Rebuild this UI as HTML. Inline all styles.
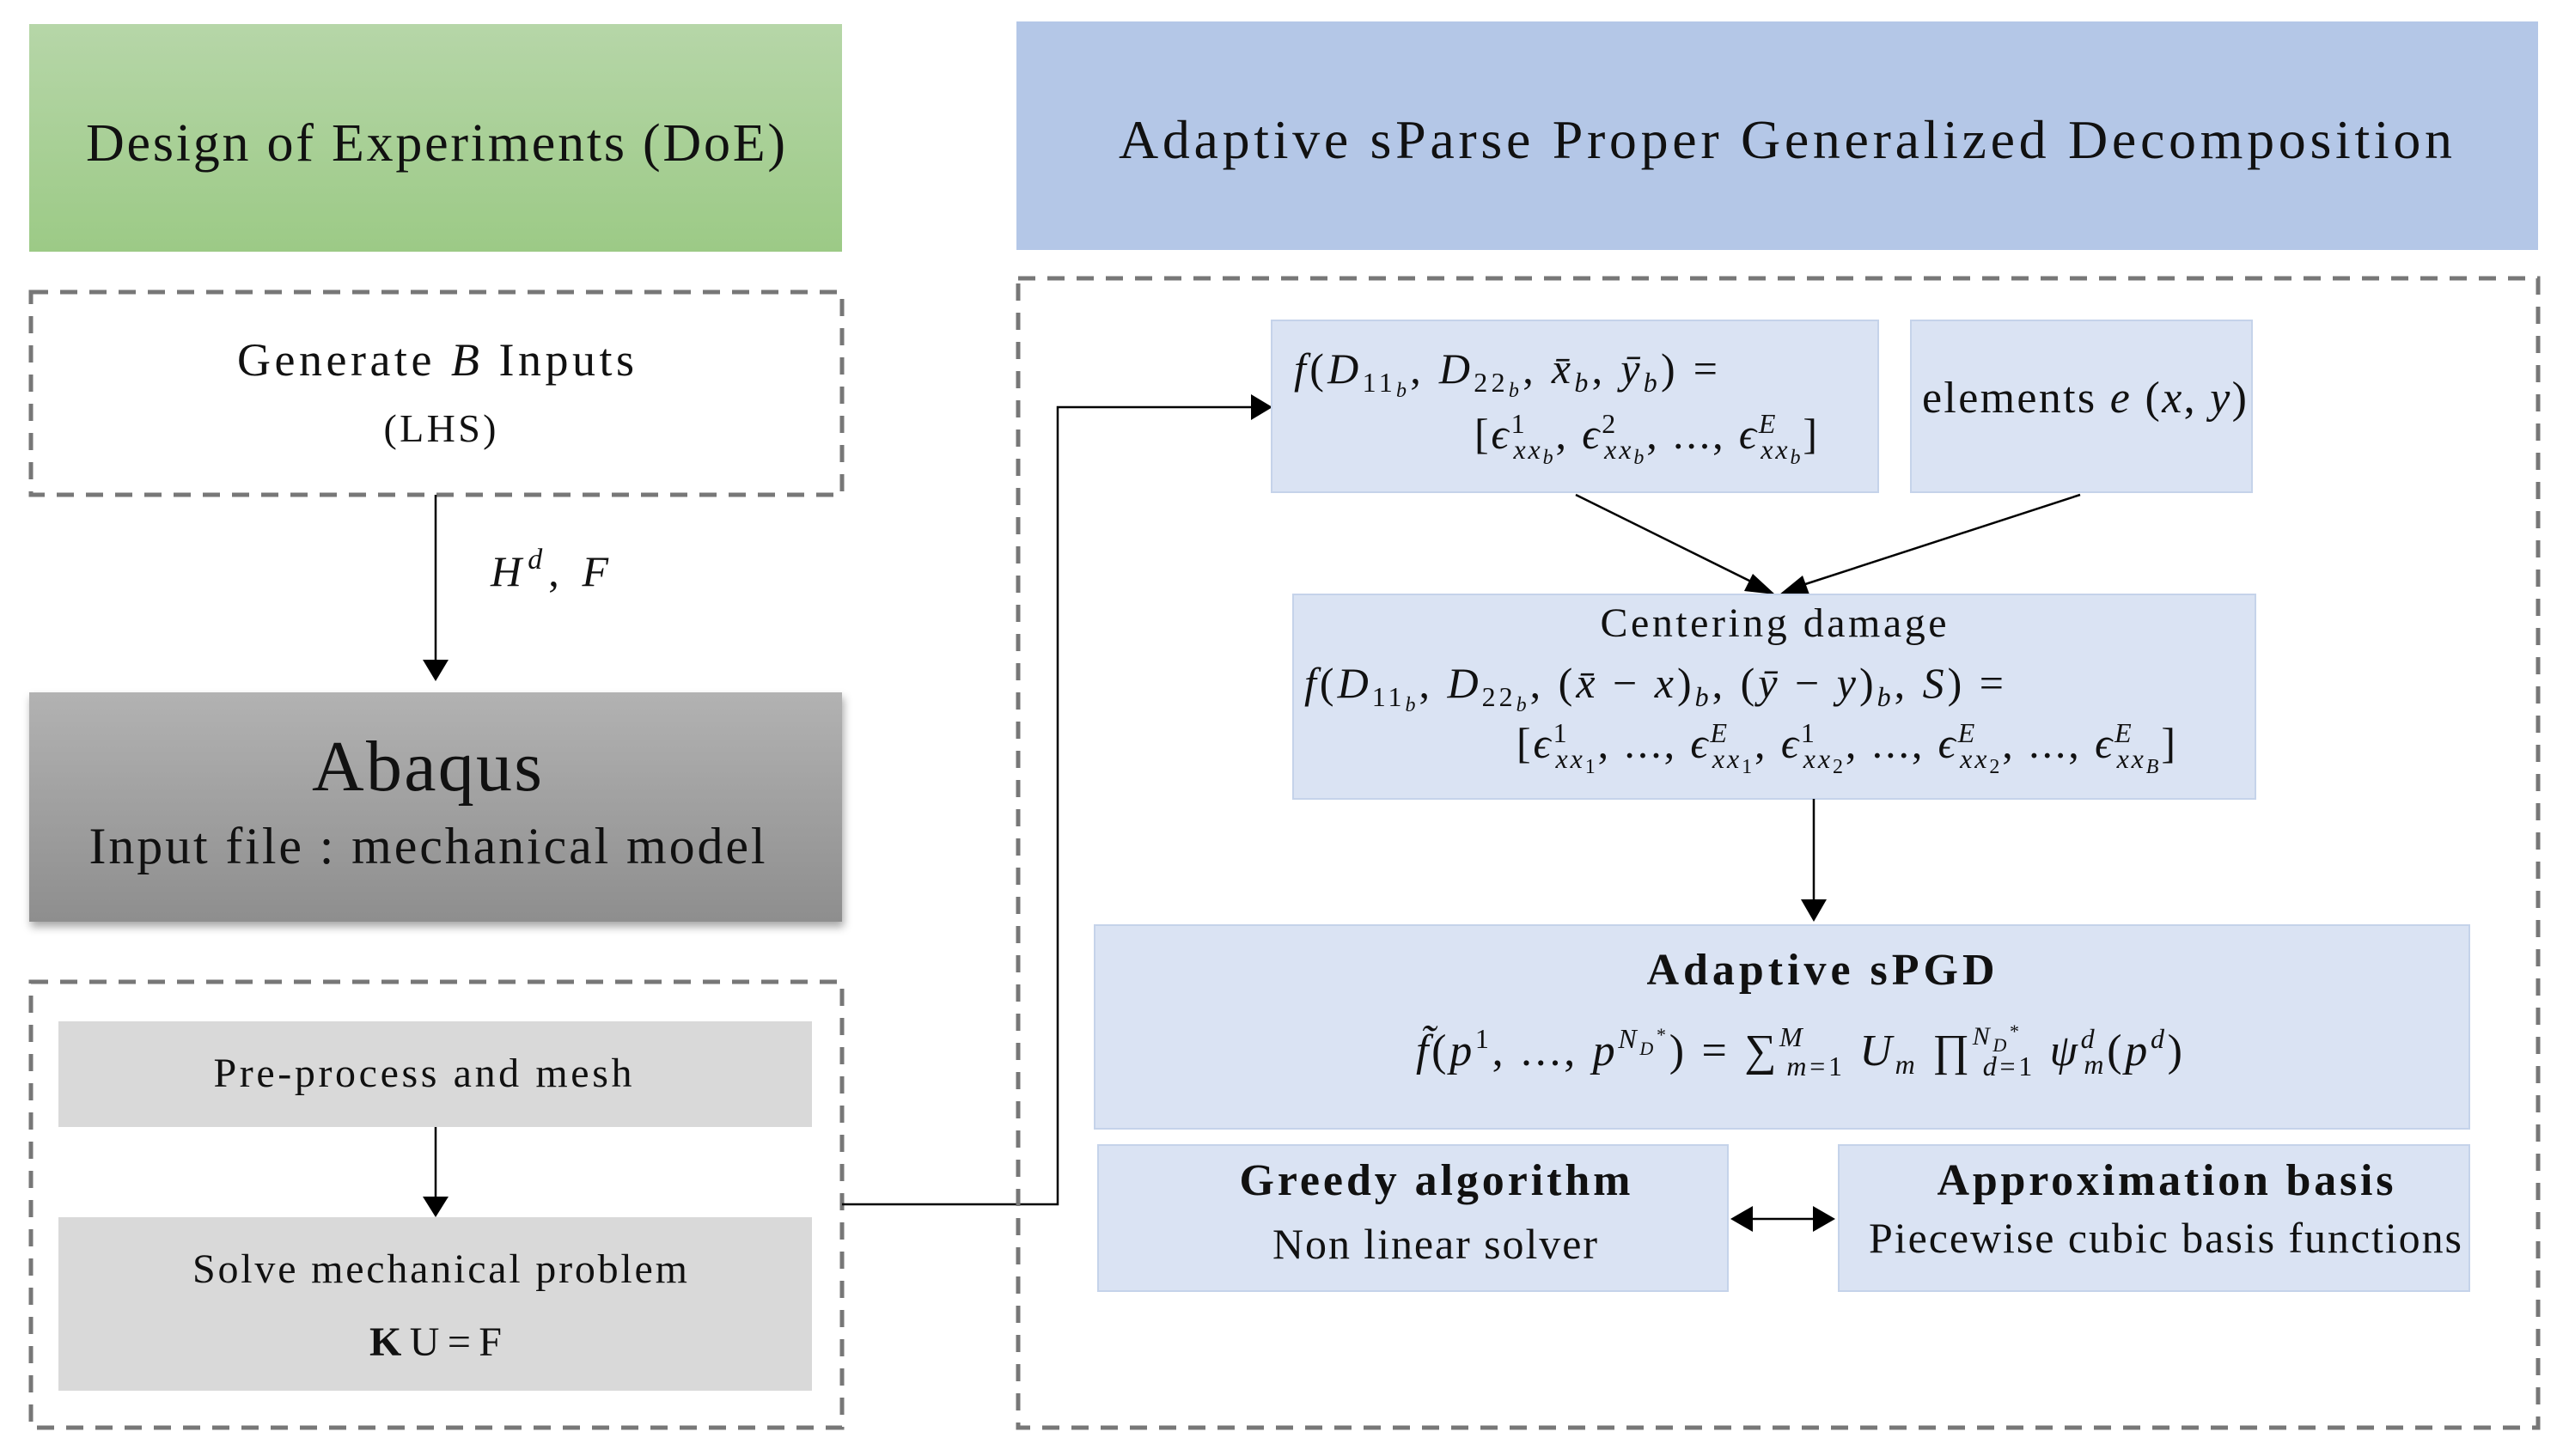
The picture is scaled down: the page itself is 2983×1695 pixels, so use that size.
<!DOCTYPE html>
<html><head><meta charset="utf-8"><style>
html,body{margin:0;padding:0;background:#fff;}
svg{display:block;}
text{font-family:"Liberation Serif",serif;fill:#111;}
.i{font-style:italic;}
</style></head><body>
<svg width="2983" height="1695" viewBox="0 0 2983 1695" xmlns="http://www.w3.org/2000/svg">
<defs>
<linearGradient id="g" x1="0" y1="0" x2="0" y2="1"><stop offset="0" stop-color="#b6d6a8"/><stop offset="1" stop-color="#9cca86"/></linearGradient>
<linearGradient id="a" x1="0" y1="0" x2="0" y2="1"><stop offset="0" stop-color="#b2b2b2"/><stop offset="1" stop-color="#8e8e8e"/></linearGradient>
<filter id="sh" x="-5%" y="-5%" width="110%" height="120%"><feDropShadow dx="2" dy="6" stdDeviation="5" flood-color="#000" flood-opacity="0.35"/></filter>
</defs>

<!-- left -->
<rect x="34" y="28" width="946" height="265" fill="url(#g)"/>
<text x="507" y="187" font-size="62" text-anchor="middle" textLength="814" lengthAdjust="spacing">Design of Experiments (DoE)</text>

<rect x="36" y="340" width="944" height="236" fill="none" stroke="#777" stroke-width="5" stroke-dasharray="20 14"/>
<text x="507" y="437" font-size="54" text-anchor="middle" textLength="462" lengthAdjust="spacing">Generate <tspan class="i">B</tspan> Inputs</text>
<text x="512" y="514" font-size="46" text-anchor="middle" textLength="131" lengthAdjust="spacing">(LHS)</text>

<line x1="507" y1="576" x2="507" y2="770" stroke="#000" stroke-width="2.5"/>
<path d="M492,768 L522,768 L507,793z" fill="#000"/>
<text x="571" y="682" font-size="50" class="i" textLength="137" lengthAdjust="spacing">H<tspan dy="-20" font-size="34">d</tspan><tspan dy="20" font-style="normal">, </tspan>F</text>

<rect x="34" y="806" width="946" height="267" fill="url(#a)" filter="url(#sh)"/>
<text x="497" y="920" font-size="84" text-anchor="middle" textLength="268" lengthAdjust="spacing">Abaqus</text>
<text x="497" y="1005" font-size="60" text-anchor="middle" textLength="787" lengthAdjust="spacing">Input file : mechanical model</text>

<rect x="36" y="1143" width="944" height="519" fill="none" stroke="#777" stroke-width="5" stroke-dasharray="20 14"/>
<rect x="68" y="1189" width="877" height="123" fill="#d9d9d9"/>
<text x="492" y="1265" font-size="48" text-anchor="middle" textLength="487" lengthAdjust="spacing">Pre-process and mesh</text>
<line x1="507" y1="1312" x2="507" y2="1395" stroke="#000" stroke-width="2.5"/>
<path d="M492,1393 L522,1393 L507,1417z" fill="#000"/>
<rect x="68" y="1417" width="877" height="202" fill="#d9d9d9"/>
<text x="512" y="1493" font-size="48" text-anchor="middle" textLength="576" lengthAdjust="spacing">Solve mechanical problem</text>
<text x="507" y="1578" font-size="48" text-anchor="middle" textLength="154" lengthAdjust="spacing"><tspan font-weight="bold">K</tspan>U=F</text>

<!-- connector -->
<polyline points="980,1402 1231,1402 1231,474 1458,474" fill="none" stroke="#000" stroke-width="2.5"/>
<path d="M1456,459 L1481,474 L1456,489z" fill="#000"/>

<!-- right -->
<rect x="1183" y="25" width="1771" height="266" fill="#b4c7e7"/>
<text x="2078" y="184" font-size="64" text-anchor="middle" textLength="1552" lengthAdjust="spacing">Adaptive sParse Proper Generalized Decomposition</text>

<rect x="1185" y="324" width="1769" height="1338" fill="none" stroke="#777" stroke-width="5" stroke-dasharray="20 14"/>

<rect x="1480" y="373" width="706" height="200" fill="#dae3f3" stroke="#c5d3ea" stroke-width="2"/>
<text x="1506" y="446" font-size="50" textLength="493" lengthAdjust="spacing"><tspan class="i">f</tspan>(<tspan class="i">D</tspan><tspan font-size="32" dy="10">11</tspan><tspan class="i" font-size="24" dy="6">b</tspan><tspan dy="-16">, </tspan><tspan class="i">D</tspan><tspan font-size="32" dy="10">22</tspan><tspan class="i" font-size="24" dy="6">b</tspan><tspan dy="-16">, </tspan><tspan class="i">x̄</tspan><tspan class="i" font-size="32" dy="10">b</tspan><tspan dy="-10">, </tspan><tspan class="i">ȳ</tspan><tspan class="i" font-size="32" dy="10">b</tspan><tspan dy="-10">) =</tspan></text>
<text x="1716" y="522" font-size="50" textLength="399" lengthAdjust="spacing">[<tspan class="i">ϵ</tspan><tspan font-size="32" dy="-18">1</tspan><tspan class="i" font-size="32" dx="-16" dy="30">xx</tspan><tspan class="i" font-size="24" dy="6">b</tspan><tspan dy="-18">, </tspan><tspan class="i">ϵ</tspan><tspan font-size="32" dy="-18">2</tspan><tspan class="i" font-size="32" dx="-16" dy="30">xx</tspan><tspan class="i" font-size="24" dy="6">b</tspan><tspan dy="-18">, ..., </tspan><tspan class="i">ϵ</tspan><tspan class="i" font-size="32" dy="-18">E</tspan><tspan class="i" font-size="32" dx="-20" dy="30">xx</tspan><tspan class="i" font-size="24" dy="6">b</tspan><tspan dy="-18">]</tspan></text>

<rect x="2224" y="373" width="397" height="200" fill="#dae3f3" stroke="#c5d3ea" stroke-width="2"/>
<text x="2237" y="480" font-size="52" textLength="378" lengthAdjust="spacing">elements <tspan class="i">e</tspan> (<tspan class="i">x</tspan>, <tspan class="i">y</tspan>)</text>

<line x1="1834" y1="576" x2="2046" y2="681" stroke="#000" stroke-width="2.5"/>
<path d="M2040,668 L2066,692 L2030,688z" fill="#000"/>
<line x1="2421" y1="576" x2="2092" y2="683" stroke="#000" stroke-width="2.5"/>
<path d="M2098,670 L2071,692 L2106,692z" fill="#000"/>

<rect x="1505" y="692" width="1120" height="238" fill="#dae3f3" stroke="#c5d3ea" stroke-width="2"/>
<text x="2064" y="741" font-size="48" text-anchor="middle" textLength="403" lengthAdjust="spacing">Centering damage</text>
<text x="1518" y="812" font-size="50" textLength="814" lengthAdjust="spacing"><tspan class="i">f</tspan>(<tspan class="i">D</tspan><tspan font-size="32" dy="10">11</tspan><tspan class="i" font-size="24" dy="6">b</tspan><tspan dy="-16">, </tspan><tspan class="i">D</tspan><tspan font-size="32" dy="10">22</tspan><tspan class="i" font-size="24" dy="6">b</tspan><tspan dy="-16">, (</tspan><tspan class="i">x̄</tspan> − <tspan class="i">x</tspan>)<tspan class="i" font-size="32" dy="10">b</tspan><tspan dy="-10">, (</tspan><tspan class="i">ȳ</tspan> − <tspan class="i">y</tspan>)<tspan class="i" font-size="32" dy="10">b</tspan><tspan dy="-10">, </tspan><tspan class="i">S</tspan>) =</text>
<text x="1765" y="882" font-size="50" textLength="767" lengthAdjust="spacing">[<tspan class="i">ϵ</tspan><tspan font-size="32" dy="-18">1</tspan><tspan class="i" font-size="32" dx="-16" dy="30">xx</tspan><tspan font-size="24" dy="6">1</tspan><tspan dy="-18">, ..., </tspan><tspan class="i">ϵ</tspan><tspan class="i" font-size="32" dy="-18">E</tspan><tspan class="i" font-size="32" dx="-20" dy="30">xx</tspan><tspan font-size="24" dy="6">1</tspan><tspan dy="-18">, </tspan><tspan class="i">ϵ</tspan><tspan font-size="32" dy="-18">1</tspan><tspan class="i" font-size="32" dx="-16" dy="30">xx</tspan><tspan font-size="24" dy="6">2</tspan><tspan dy="-18">, ..., </tspan><tspan class="i">ϵ</tspan><tspan class="i" font-size="32" dy="-18">E</tspan><tspan class="i" font-size="32" dx="-20" dy="30">xx</tspan><tspan font-size="24" dy="6">2</tspan><tspan dy="-18">, ..., </tspan><tspan class="i">ϵ</tspan><tspan class="i" font-size="32" dy="-18">E</tspan><tspan class="i" font-size="32" dx="-20" dy="30">xx</tspan><tspan class="i" font-size="24" dy="6">B</tspan><tspan dy="-18">]</tspan></text>

<line x1="2111" y1="930" x2="2111" y2="1050" stroke="#000" stroke-width="2.5"/>
<path d="M2096,1047 L2126,1047 L2111,1073z" fill="#000"/>

<rect x="1274" y="1077" width="1600" height="237" fill="#dae3f3" stroke="#c5d3ea" stroke-width="2"/>
<text x="2119" y="1146" font-size="52" font-weight="bold" text-anchor="middle" textLength="405" lengthAdjust="spacing">Adaptive sPGD</text>
<text x="1648" y="1240" font-size="52" textLength="892" lengthAdjust="spacing"><tspan class="i">f̃</tspan>(<tspan class="i">p</tspan><tspan font-size="32" dy="-20">1</tspan><tspan dy="20">, ..., </tspan><tspan class="i">p</tspan><tspan class="i" font-size="32" dy="-20">N</tspan><tspan class="i" font-size="22" dy="8">D</tspan><tspan font-size="22" dy="-16">*</tspan><tspan dy="28">) = ∑</tspan><tspan class="i" font-size="32" dy="-22">M</tspan><tspan class="i" font-size="32" dx="-22" dy="34">m</tspan><tspan font-size="32">=1</tspan><tspan class="i" dy="-12"> U</tspan><tspan class="i" font-size="32" dy="10">m</tspan><tspan dy="-10"> ∏</tspan><tspan class="i" font-size="30" dy="-24">N</tspan><tspan class="i" font-size="22" dy="8">D</tspan><tspan font-size="22" dy="-16">*</tspan><tspan class="i" font-size="32" dx="-46" dy="44">d</tspan><tspan font-size="32">=1</tspan><tspan class="i" dy="-12"> ψ</tspan><tspan class="i" font-size="32" dy="-20">d</tspan><tspan class="i" font-size="32" dx="-16" dy="30">m</tspan><tspan dy="-10">(</tspan><tspan class="i">p</tspan><tspan class="i" font-size="32" dy="-20">d</tspan><tspan dy="20">)</tspan></text>

<rect x="1278" y="1333" width="733" height="170" fill="#dae3f3" stroke="#c5d3ea" stroke-width="2"/>
<text x="1670" y="1391" font-size="52" font-weight="bold" text-anchor="middle" textLength="455" lengthAdjust="spacing">Greedy algorithm</text>
<text x="1670" y="1465" font-size="50" text-anchor="middle" textLength="378" lengthAdjust="spacing">Non linear solver</text>

<rect x="2140" y="1333" width="734" height="170" fill="#dae3f3" stroke="#c5d3ea" stroke-width="2"/>
<text x="2520" y="1391" font-size="52" font-weight="bold" text-anchor="middle" textLength="531" lengthAdjust="spacing">Approximation basis</text>
<text x="2520" y="1458" font-size="50" text-anchor="middle" textLength="690" lengthAdjust="spacing">Piecewise cubic basis functions</text>

<line x1="2036" y1="1419" x2="2114" y2="1419" stroke="#000" stroke-width="2.5"/>
<path d="M2040,1404 L2014,1419 L2040,1434z" fill="#000"/>
<path d="M2110,1404 L2136,1419 L2110,1434z" fill="#000"/>
</svg>
</body></html>
